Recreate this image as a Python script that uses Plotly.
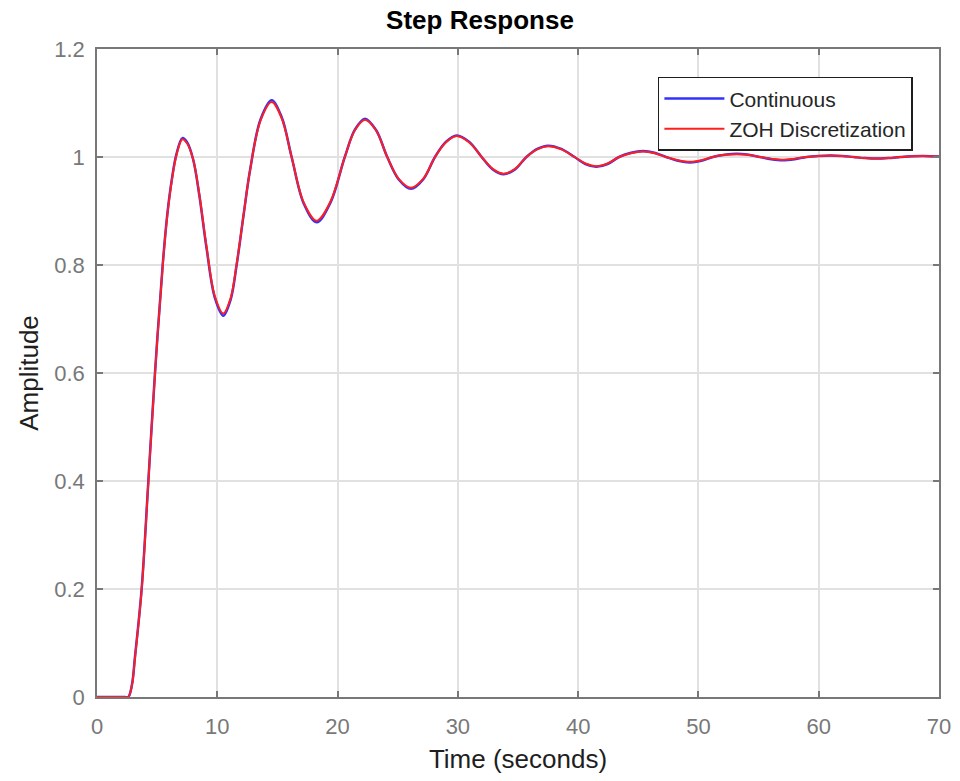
import plotly.graph_objects as go

# Time samples (seconds) and amplitudes
t_cont = [0, 2.3, 2.6, 2.9, 3.16, 3.71, 4.27, 4.82, 5.46, 5.85, 6.21, 6.6, 7.1, 7.5,
          8.0, 8.5, 9.12, 9.8, 10.5, 11.1, 11.61, 12.2, 12.72, 13.6, 14.52, 15.35,
          16.18, 17.2, 18.26, 19.4, 20.6, 21.45, 22.28, 23.2, 24.13, 25.1, 26.1,
          27.1, 28.1, 29.0, 29.9, 30.95, 31.98, 32.9, 33.8, 34.75, 35.7, 36.6,
          37.5, 38.6, 39.7, 40.6, 41.5, 42.45, 43.4, 44.4, 45.4, 46.35, 47.3,
          48.3, 49.3, 50.25, 51.2, 52.2, 53.2, 54.15, 55.1, 56.05, 57.0, 58.0,
          59.0, 60.0, 61.0, 61.95, 62.9, 63.85, 64.8, 65.8, 66.8, 67.75, 68.7, 70.0]
y_cont = [0, 0, 0, 0.022, 0.075, 0.2, 0.4, 0.6, 0.8, 0.895, 0.957, 1.005, 1.035, 1.027,
          0.995, 0.93, 0.829, 0.739, 0.706, 0.735, 0.80, 0.895, 0.975, 1.07, 1.105, 1.074,
          1.0, 0.913, 0.879, 0.915, 1.0, 1.051, 1.071, 1.05, 1.0, 0.958, 0.941,
          0.958, 1.0, 1.028, 1.040, 1.028, 1.0, 0.977, 0.968, 0.977, 1.0, 1.015,
          1.021, 1.015, 1.0, 0.987, 0.982, 0.987, 1.0, 1.008, 1.011, 1.008, 1.0,
          0.993, 0.990, 0.993, 1.0, 1.004, 1.006, 1.004, 1.0, 0.996, 0.994, 0.996,
          1.0, 1.002, 1.003, 1.002, 1.0, 0.998, 0.997, 0.998, 1.0, 1.0015, 1.002, 1.001]

t_zoh = list(t_cont)
y_zoh = [0, 0, 0, 0.021, 0.073, 0.198, 0.398, 0.598, 0.798, 0.893, 0.955, 1.003, 1.033, 1.025,
         0.995, 0.932, 0.832, 0.742, 0.710, 0.738, 0.802, 0.895, 0.975, 1.068, 1.102, 1.072,
         1.0, 0.915, 0.882, 0.917, 1.0, 1.050, 1.069, 1.049, 1.0, 0.959, 0.943,
         0.959, 1.0, 1.027, 1.039, 1.027, 1.0, 0.978, 0.969, 0.978, 1.0, 1.014,
         1.020, 1.014, 1.0, 0.988, 0.983, 0.988, 1.0, 1.007, 1.010, 1.007, 1.0,
         0.994, 0.991, 0.994, 1.0, 1.004, 1.005, 1.004, 1.0, 0.997, 0.995, 0.997,
         1.0, 1.002, 1.003, 1.002, 1.0, 0.998, 0.997, 0.998, 1.0, 1.0015, 1.002, 1.001]

x_ticks = [0, 10, 20, 30, 40, 50, 60, 70]
y_ticks = [0, 0.2, 0.4, 0.6, 0.8, 1.0, 1.2]
y_tick_labels = ["0", "0.2", "0.4", "0.6", "0.8", "1", "1.2"]
steady_state = 1.0

FONT = "Liberation Sans, Arial, Helvetica, sans-serif"
AX = "rgb(120,120,120)"
W, H = 960, 781

fig = go.Figure()
fig.add_trace(go.Scatter(x=t_cont, y=y_cont, mode="lines", name="Continuous",
                         line=dict(color="rgb(50,50,255)", width=2.5, shape="spline", smoothing=1)))
fig.add_trace(go.Scatter(x=t_zoh, y=y_zoh, mode="lines", name="ZOH Discretization",
                         line=dict(color="rgb(255,30,30)", width=2, shape="spline", smoothing=1)))

fig.add_shape(type="line", xref="x", yref="y", x0=x_ticks[0], x1=x_ticks[-1],
              y0=steady_state, y1=steady_state,
              line=dict(color="rgb(50,50,50)", width=2, dash="2px,7px"), layer="below")

fig.update_layout(
    width=W, height=H,
    margin=dict(l=97, r=21, t=49, b=84, autoexpand=False),
    paper_bgcolor="white", plot_bgcolor="white",
    font=dict(family=FONT, color="rgb(38,38,38)"),
    title=dict(text="<b>Step Response</b>", x=0.5, xanchor="center",
               y=1 - 20 / H, yanchor="middle", font=dict(size=26, color="black", family=FONT)),
    showlegend=True,
    legend=dict(x=0.969, xanchor="right", y=0.957, yanchor="top",
                bordercolor="rgb(30,30,30)", borderwidth=1.5, bgcolor="white",
                font=dict(size=21, color="rgb(38,38,38)", family=FONT),
                itemwidth=60, tracegroupgap=0),
)
fig.update_xaxes(range=[0, 70], tickvals=x_ticks, ticktext=[str(v) for v in x_ticks],
                 showgrid=True, gridcolor="rgb(225,225,225)", gridwidth=1.5,
                 showline=True, linecolor=AX, linewidth=1.5, mirror="ticks",
                 ticks="inside", ticklen=6, tickcolor=AX, tickwidth=1.5,
                 tickfont=dict(size=22, color=AX, family=FONT), ticklabelstandoff=9,
                 zeroline=False, automargin=False,
                 title=dict(text="Time (seconds)", font=dict(size=26, color="rgb(30,30,30)", family=FONT),
                            standoff=12))
fig.update_yaxes(range=[0, 1.2], tickvals=y_ticks, ticktext=y_tick_labels,
                 showgrid=True, gridcolor="rgb(225,225,225)", gridwidth=1.5,
                 showline=True, linecolor=AX, linewidth=1.5, mirror="ticks",
                 ticks="inside", ticklen=6, tickcolor=AX, tickwidth=1.5,
                 tickfont=dict(size=22, color=AX, family=FONT), ticklabelstandoff=6,
                 zeroline=False, automargin=False,
                 title=dict(text="Amplitude", font=dict(size=26, color="rgb(30,30,30)", family=FONT),
                            standoff=8))

fig.write_html("out.html", config={"displayModeBar": False},
               post_script="document.body.style.margin='0';document.body.style.overflow='hidden';")
